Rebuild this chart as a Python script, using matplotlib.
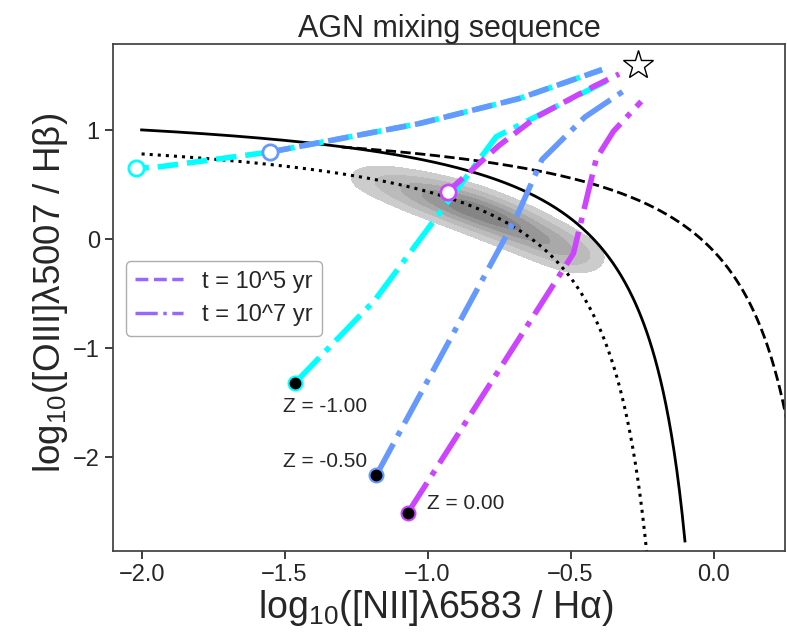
import numpy as np
import matplotlib
matplotlib.use("Agg")
import matplotlib.pyplot as plt
from matplotlib.lines import Line2D

plt.rcParams.update({
    "font.family": ["Liberation Sans", "DejaVu Sans"],
    "mathtext.default": "regular",
    "axes.edgecolor": ".25",
    "axes.linewidth": 1.25,
    "text.color": ".15",
    "axes.labelcolor": ".15",
    "xtick.color": ".15",
    "ytick.color": ".15",
    "xtick.major.size": 6,
    "ytick.major.size": 6,
    "xtick.major.width": 1.25,
    "ytick.major.width": 1.25,
    "xtick.direction": "out",
    "ytick.direction": "out",
})

# Demarcation curves of the form y = a / (x - b) + c
kauffmann03 = (0.61, 0.05, 1.30)
kewley01 = (0.61, 0.47, 1.19)
lower_locus = (0.61, -0.08, 1.10)

# Ridge of the star-forming galaxy locus (density nodes)
locus_x = [-1.22, -1.13, -1.04, -0.95, -0.86, -0.77, -0.68, -0.59, -0.51, -0.45]
locus_y = [0.57, 0.51, 0.44, 0.37, 0.29, 0.20, 0.10, -0.01, -0.11, -0.19]
locus_w = [0.16, 0.32, 0.55, 0.8, 1.0, 1.0, 0.9, 0.7, 0.42, 0.2]

# AGN end point of the mixing sequences
agn_x, agn_y = -0.265, 1.60

# Mixing sequences, t = 10^5 yr
cyan_t5_x = [-2.02, -1.95, -1.55, -1.17, -1.03, -0.68, -0.39]
cyan_t5_y = [0.65, 0.66, 0.80, 0.99, 1.06, 1.29, 1.555]
blue_t5_x = [-1.55, -1.17, -1.03, -0.68, -0.39]
blue_t5_y = [0.80, 0.99, 1.06, 1.29, 1.555]
mag_t5_x = [-0.93, -0.75, -0.62, -0.42, -0.33]
mag_t5_y = [0.435, 0.86, 1.12, 1.40, 1.515]

# Mixing sequences, t = 10^7 yr
cyan_t7_x = [-1.465, -1.185, -0.76, -0.375]
cyan_t7_y = [-1.32, -0.56, 0.94, 1.45]
blue_t7_x = [-1.179, -0.69, -0.60, -0.45, -0.317]
blue_t7_y = [-2.162, 0.20, 0.73, 1.12, 1.355]
mag_t7_x = [-1.069, -0.49, -0.41, -0.35, -0.253]
mag_t7_y = [-2.508, -0.13, 0.74, 0.99, 1.263]

metallicity_labels = ["Z = -1.00", "Z = -0.50", "Z = 0.00"]
seq_colors = ["#00ffff", "#6699ff", "#cc44ff"]
legend_color = "#9966ff"
legend_labels = ["t = 10^5 yr", "t = 10^7 yr"]

xlim = (-2.10, 0.25)
ylim = (-2.86, 1.79)

fig = plt.figure(figsize=(7.87, 6.35), dpi=100)
ax = fig.add_axes([0.1436, 0.132, 0.8539, 0.7987])
ax.set_xlim(*xlim)
ax.set_ylim(*ylim)

# Galaxy density contours
gx, gy = np.meshgrid(np.linspace(-1.6, -0.1, 400), np.linspace(-0.9, 1.1, 400))
dens = np.zeros_like(gx)
for lx, ly, lw in zip(locus_x, locus_y, locus_w):
    dens += lw * np.exp(-0.5 * (((gx - lx) / 0.06) ** 2 + ((gy - ly) / 0.10) ** 2))
dens /= dens.max()
ax.contourf(gx, gy, dens, levels=[0.1, 0.25, 0.45, 0.65, 0.85, 1.01],
            colors=["#cccccc", "#bbbbbb", "#a9a9a9", "#979797", "#858585"], zorder=1)


def demarcation(params, x):
    a, b, c = params
    return a / (x - b) + c


xs = np.linspace(-2.0, -0.1, 400)
ax.plot(xs, demarcation(kauffmann03, xs), color="k", lw=2, zorder=2)
xs = np.linspace(-1.3, 0.3, 400)
ax.plot(xs, demarcation(kewley01, xs), color="k", lw=2, ls="--", zorder=2)
xs = np.linspace(-2.0, -0.2, 600)
ax.plot(xs, demarcation(lower_locus, xs), color="k", lw=2.2, ls=":", zorder=2)


def path_length_pt(xv, yv):
    pts = ax.transData.transform(np.column_stack([xv, yv]))
    return np.hypot(*np.diff(pts, axis=0).T).sum() * 72.0 / fig.dpi


seq_lw = 4.0
dash_on, dash_off = 3.7, 1.6
period = (dash_on + dash_off) * seq_lw
# keep the cyan dashes just ahead of the shared blue ones where the two paths coincide
lead = path_length_pt(cyan_t5_x[:3], cyan_t5_y[:3])
cyan_offset = ((period - 3.0 - lead) % period) / seq_lw
t5_styles = [(cyan_offset, (dash_on, dash_off)), (0, (dash_on, dash_off)), (0, (dash_on, dash_off))]

t5 = [(cyan_t5_x, cyan_t5_y), (blue_t5_x, blue_t5_y), (mag_t5_x, mag_t5_y)]
t7 = [(cyan_t7_x, cyan_t7_y), (blue_t7_x, blue_t7_y), (mag_t7_x, mag_t7_y)]

for (x5, y5), (x7, y7), col, st in zip(t5, t7, seq_colors, t5_styles):
    ax.plot(x5, y5, color=col, lw=seq_lw, ls=st, zorder=3)
    ax.plot(x7, y7, color=col, lw=seq_lw, ls="-.", zorder=3)
    ax.plot(x5[0], y5[0], "o", ms=11, mfc="white", mec=col, mew=2, zorder=4)
    ax.plot(x7[0], y7[0], "o", ms=10, mfc="black", mec=col, mew=1.5, zorder=4)

ax.plot(agn_x, agn_y, marker="*", ms=22, mfc="white", mec="k", mew=1, zorder=5)

# Metallicity annotations next to the old-population end points
ax.annotate(metallicity_labels[0], (cyan_t7_x[0], cyan_t7_y[0]), xytext=(-8, -10),
            textcoords="offset points", ha="left", va="top", fontsize=15)
ax.annotate(metallicity_labels[1], (blue_t7_x[0], blue_t7_y[0]), xytext=(-7, 10),
            textcoords="offset points", ha="right", va="center", fontsize=15)
ax.annotate(metallicity_labels[2], (mag_t7_x[0], mag_t7_y[0]), xytext=(14, 7),
            textcoords="offset points", ha="left", va="center", fontsize=15)

handles = [Line2D([], [], color=legend_color, lw=2.5, ls="--"),
           Line2D([], [], color=legend_color, lw=2.5, ls="-.")]
leg = ax.legend(handles, legend_labels, loc="upper left", bbox_to_anchor=(0.0193, 0.572),
                borderaxespad=0, fontsize=17, frameon=True, fancybox=True,
                edgecolor=".6", handlelength=2.0)

ax.set_xticks([-2.0, -1.5, -1.0, -0.5, 0.0])
ax.set_yticks([-2, -1, 0, 1])
ax.tick_params(labelsize=17)
ax.set_xlabel("log$_{10}$([NII]λ6583 / Hα)", fontsize=27, labelpad=1)
ax.set_ylabel("log$_{10}$([OIII]λ5007 / Hβ)", fontsize=26.5, labelpad=2)
ax.xaxis.label.set_x(0.481)
ax.yaxis.label.set_y(0.51)
ax.set_title("AGN mixing sequence", fontsize=22, pad=5)

fig.savefig("out.png", dpi=100)
